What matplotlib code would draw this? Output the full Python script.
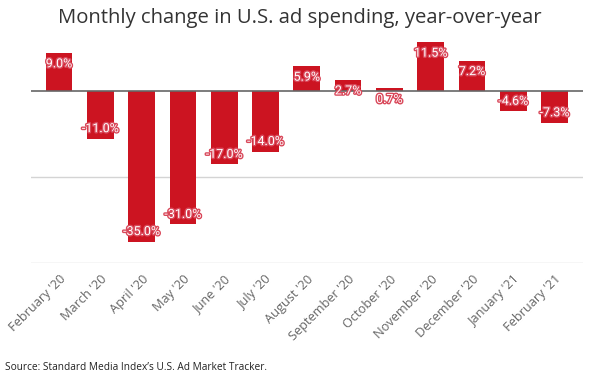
import matplotlib
matplotlib.use("Agg")
import matplotlib.pyplot as plt
import matplotlib.patheffects as pe
import numpy as np

months = ["February '20", "March '20", "April '20", "May '20",
          "June '20", "July '20", "August '20", "September '20",
          "October '20", "November '20", "December '20",
          "January '21", "February '21"]
change = [9.0, -11.0, -35.0, -31.0, -17.0, -14.0, 5.9, 2.7, 0.7, 11.5, 7.2, -4.6, -7.3]

RED = "#cc1421"

fig = plt.figure(figsize=(6, 3.75), dpi=100)
ax = fig.add_axes([31 / 600, 1 - 263 / 375, 552 / 600, 223 / 375])

x = np.arange(len(months))
ax.bar(x, change, width=0.65, color=RED, zorder=3)

ax.set_xlim(-0.68, 12.69)
ax.set_ylim(-40, 12)
ax.set_yticks([-40, -20])
ax.yaxis.grid(True, color="#d4d4d4", linewidth=1)
ax.axhline(0, color="#666666", linewidth=1.2, zorder=4)
ax.tick_params(axis="y", length=0, labelleft=False)
for s in ax.spines.values():
    s.set_visible(False)

ax.set_xticks(x)
ax.set_xticklabels(months, rotation=45, ha="right", rotation_mode="anchor",
                   fontsize=9.2, color="#666666", family="Open Sans")
ax.tick_params(axis="x", length=0, pad=7)

for xi, v in zip(x, change):
    off = -11 if v > 0 else 10
    ax.annotate(f"{v:.1f}%", (xi, v), xytext=(0, off), textcoords="offset pixels",
                ha="center", va="center", fontsize=9, color="white",
                family="Roboto", zorder=5,
                path_effects=[pe.withStroke(linewidth=2, foreground="#d9485a")])

fig.text(0.5, 1 - 18 / 375, "Monthly change in U.S. ad spending, year-over-year",
         ha="center", va="center", fontsize=14.6, color="#333333", family="Open Sans")
fig.text(5 / 600, 1 - 367 / 375, "Source: Standard Media Index\u2019s U.S. Ad Market Tracker.",
         ha="left", va="center", fontsize=7.3, color="#222222", family="Open Sans")

fig.savefig("out.png", dpi=100)
